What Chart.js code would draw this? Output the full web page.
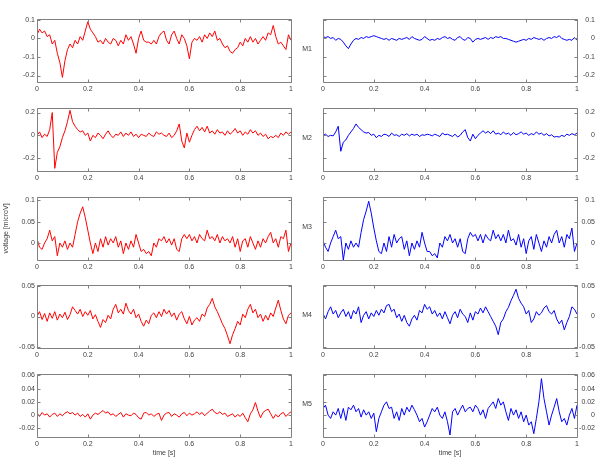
<!DOCTYPE html>
<html>
<head>
<meta charset="utf-8">
<script src="https://cdn.jsdelivr.net/npm/chart.js@4.4.1/dist/chart.umd.min.js"></script>
<style>
    body { margin: 0; background: #fff; width: 600px; height: 460px; position: relative; overflow: hidden; }
    canvas { position: absolute; }
</style>
</head>
<body>
<script>
// tick labels
const xTicks = [0, 0.2, 0.4, 0.6, 0.8, 1]
const rowNames = ['M1', 'M2', 'M3', 'M4', 'M5']
const rowTicks = [
    [-0.2, -0.1, 0, 0.1],
    [-0.2, 0, 0.2],
    [0, 0.05, 0.1],
    [-0.05, 0, 0.05],
    [-0.02, 0, 0.02, 0.04, 0.06]
]
const rowLimits = [[-0.235, 0.105], [-0.313, 0.24], [-0.04, 0.108], [-0.052, 0.052], [-0.033, 0.062]]

// signals, one sample every 0.01 s from 0 to 1
const red1 = [0.02,0.05,0.03,0.04,0.01,0.02,-0.03,-0.01,-0.08,-0.13,
    -0.21,-0.12,-0.06,-0.03,-0.05,-0.01,-0.03,0.01,-0.01,0.04,
    0.09,0.05,0.03,0.01,-0.02,-0.01,-0.03,0.0,-0.02,-0.03,
    0.0,-0.01,-0.04,-0.01,-0.03,0.02,-0.01,0.01,-0.03,-0.08,
    0.0,0.04,-0.01,-0.02,-0.02,-0.03,-0.01,-0.03,0.01,0.03,
    0.04,-0.01,-0.03,0.02,0.04,0.0,-0.03,0.02,0.0,-0.04,
    -0.11,-0.02,0.0,-0.01,0.01,-0.02,0.02,0.0,0.03,0.01,
    0.04,-0.01,0.0,-0.03,-0.05,-0.04,-0.07,-0.08,-0.06,-0.05,
    -0.02,-0.04,0.0,-0.02,0.01,-0.02,0.0,-0.03,-0.01,0.01,
    -0.01,0.03,0.02,0.07,0.01,-0.03,-0.02,-0.04,-0.06,0.02,
    -0.01]
const blue1 = [0.01,0.005,0.01,0.0,0.005,-0.01,0.0,-0.005,-0.02,-0.04,
    -0.055,-0.03,-0.01,0.0,-0.005,0.005,0.0,0.01,0.005,0.01,
    0.015,0.01,0.005,0.0,-0.005,0.0,-0.01,0.0,-0.005,-0.01,
    0.0,-0.005,0.0,0.005,-0.005,0.01,0.0,-0.005,-0.01,-0.005,
    0.01,0.0,-0.01,-0.005,-0.01,0.0,-0.005,0.005,0.01,0.0,
    0.005,-0.005,-0.01,0.005,0.01,-0.005,-0.01,0.005,0.0,-0.02,
    -0.005,0.0,-0.005,0.0,0.005,-0.005,0.005,0.0,0.01,0.005,
    0.01,0.0,0.0,-0.005,-0.01,-0.015,-0.02,-0.015,-0.01,-0.005,
    -0.01,0.0,-0.005,0.005,0.0,-0.005,0.0,-0.01,0.0,0.005,
    0.0,0.01,0.005,0.015,0.0,-0.005,-0.01,-0.005,-0.01,0.005,
    -0.01]
const red2 = [0.0,0.03,-0.02,0.01,-0.01,0.05,0.2,-0.29,-0.15,-0.1,
    -0.02,0.04,0.12,0.22,0.12,0.08,0.05,0.03,0.04,0.0,
    0.02,-0.05,0.0,-0.02,0.02,0.0,-0.03,0.01,0.04,0.0,
    -0.02,0.01,0.0,0.03,-0.01,0.02,0.0,0.03,-0.01,0.01,
    -0.02,0.01,0.0,-0.01,0.02,0.0,-0.01,0.03,0.01,0.02,
    0.0,-0.01,0.02,-0.02,0.0,0.04,0.1,-0.05,-0.11,0.02,
    -0.06,0.0,0.05,0.08,0.04,0.07,0.03,0.08,0.02,0.04,
    0.01,0.05,0.02,0.03,0.0,0.04,0.01,0.03,0.06,0.02,
    0.04,0.0,0.03,0.01,0.05,0.02,0.04,0.0,0.02,-0.01,
    0.01,-0.03,-0.01,-0.02,0.0,-0.02,0.02,0.0,0.03,0.01,
    0.03]
const blue2 = [0.0,0.01,-0.01,0.0,-0.005,0.03,0.08,-0.14,-0.06,-0.04,
    0.0,0.03,0.06,0.1,0.07,0.05,0.03,0.02,0.025,0.0,
    0.01,-0.02,0.0,-0.01,0.01,0.005,-0.01,0.02,0.0,0.005,
    -0.01,0.01,0.0,0.015,-0.005,0.01,0.0,0.01,-0.01,0.005,
    0.0,0.01,0.005,-0.005,0.01,0.0,-0.01,0.02,0.005,0.01,
    0.0,-0.01,0.01,-0.015,0.0,0.03,0.05,-0.02,-0.05,0.01,
    -0.03,0.0,0.02,0.04,0.02,0.035,0.015,0.04,0.01,0.02,
    0.005,0.03,0.01,0.02,0.0,0.025,0.005,0.015,0.03,0.01,
    0.02,0.0,0.015,0.005,0.03,0.01,0.02,0.0,0.015,-0.005,
    0.005,-0.015,-0.01,-0.015,0.0,-0.01,0.01,0.0,0.015,0.005,
    0.02]
const red3 = [0.01,-0.01,-0.015,0.0,0.01,0.03,0.005,0.015,-0.03,0.0,
    -0.01,0.005,-0.015,0.0,-0.01,0.02,0.05,0.07,0.085,0.06,
    0.03,0.0,-0.025,0.0,-0.02,0.01,-0.01,0.015,-0.005,0.01,
    0.0,0.015,-0.01,0.005,-0.025,0.0,-0.015,0.005,-0.01,0.02,
    0.0,-0.02,-0.015,-0.025,-0.02,-0.03,0.0,-0.01,0.01,0.005,
    0.015,0.0,0.01,-0.005,0.01,-0.015,-0.02,0.01,0.02,0.01,
    0.02,0.005,0.015,0.0,0.02,0.01,0.005,0.03,0.01,0.015,
    0.005,0.02,0.0,0.015,0.005,0.01,0.0,0.015,-0.01,0.01,
    -0.02,0.005,0.01,-0.01,0.015,0.0,-0.015,0.005,-0.01,0.01,
    0.0,0.015,0.025,0.0,0.01,-0.01,0.015,0.01,0.03,-0.02,
    0.0]
const blue3 = [0.005,-0.01,-0.02,0.0,0.015,0.03,0.01,0.015,-0.04,0.0,
    -0.015,0.005,-0.01,0.0,-0.01,0.025,0.055,0.075,0.098,0.07,
    0.035,0.005,-0.02,-0.025,0.0,-0.02,0.015,-0.01,0.02,0.0,
    0.01,0.015,-0.015,0.005,-0.03,0.0,-0.015,0.005,-0.01,0.025,
    0.0,-0.02,-0.02,-0.03,-0.025,-0.035,0.0,-0.01,0.015,0.005,
    0.02,0.0,0.01,-0.01,0.01,-0.02,-0.025,0.01,0.025,0.015,
    0.02,0.005,0.02,0.0,0.02,0.01,0.005,0.03,0.01,0.02,
    0.005,0.02,0.0,0.03,0.005,0.01,-0.005,0.02,-0.01,0.01,
    -0.025,0.005,0.015,-0.015,0.02,0.0,-0.02,0.005,-0.01,0.015,
    0.0,0.02,0.03,0.0,0.015,-0.01,0.02,0.01,0.035,-0.02,
    0.0]
const red4 = [0.0,0.008,-0.005,0.005,-0.008,0.006,-0.003,0.008,-0.006,0.004,
    -0.002,0.007,-0.005,0.003,0.016,0.01,0.004,0.012,0.0,0.008,
    0.002,0.01,-0.004,0.003,-0.008,-0.018,-0.005,-0.01,0.002,-0.004,
    0.012,0.02,0.006,0.012,0.004,0.022,0.01,0.004,0.012,-0.002,
    0.004,-0.008,-0.016,-0.006,-0.012,0.002,0.006,-0.002,0.008,0.0,
    0.012,0.004,0.01,0.0,0.006,-0.006,0.004,0.008,-0.004,-0.012,
    0.0,-0.014,-0.006,-0.002,-0.008,0.004,0.0,0.014,0.02,0.03,
    0.016,0.008,-0.002,-0.012,-0.02,-0.032,-0.045,-0.03,-0.02,-0.008,
    -0.014,0.004,-0.002,0.012,0.02,0.006,0.012,-0.002,0.004,-0.008,
    0.002,-0.006,0.006,0.0,0.014,0.027,0.01,-0.004,-0.012,0.002,
    0.006]
const blue4 = [0.005,-0.004,0.008,0.016,0.004,0.01,-0.002,0.006,0.012,0.0,
    0.008,-0.004,0.01,0.004,0.016,-0.01,0.002,0.008,-0.004,0.006,
    0.0,0.01,0.002,0.012,0.006,0.018,0.02,0.008,0.012,-0.002,
    0.004,-0.008,0.002,-0.01,-0.016,-0.004,0.002,-0.006,0.01,0.006,
    0.02,0.012,0.016,0.004,0.01,0.0,0.006,-0.004,0.008,-0.002,
    -0.012,0.002,0.008,-0.002,0.012,0.004,0.0,-0.01,0.006,-0.006,
    0.008,0.004,0.014,0.006,0.016,0.008,0.0,-0.008,-0.016,-0.03,
    -0.01,-0.004,0.008,0.015,0.026,0.035,0.045,0.03,0.022,0.016,
    0.004,0.01,-0.01,-0.004,0.008,0.002,0.006,0.014,0.018,0.008,
    0.004,0.01,-0.004,-0.012,-0.006,-0.022,-0.01,0.0,0.016,0.012,
    0.004]
const red5 = [0.003,-0.002,0.004,0.0,0.002,-0.003,0.001,0.003,-0.002,0.002,
    -0.001,0.003,0.005,0.002,0.004,0.0,0.003,-0.002,0.001,-0.003,
    0.002,-0.006,0.0,0.003,0.001,0.004,0.007,0.003,0.005,0.0,
    0.002,-0.002,0.001,0.004,-0.003,0.002,0.0,-0.001,0.003,0.001,
    -0.004,-0.006,0.003,0.004,0.0,0.002,-0.002,0.001,0.003,-0.008,
    0.0,0.003,0.004,-0.002,0.002,0.0,-0.003,0.002,0.004,-0.001,
    0.003,0.0,0.002,0.005,0.001,0.004,-0.001,0.003,0.006,0.009,
    0.004,0.002,0.005,0.001,0.003,-0.002,0.0,0.002,-0.003,0.001,
    -0.002,0.003,-0.004,-0.01,0.002,0.008,0.019,0.006,-0.004,0.004,
    0.007,0.009,0.002,-0.005,0.001,-0.003,0.002,0.004,-0.002,0.002,
    0.005]
const blue5 = [0.01,0.015,0.0,-0.005,0.005,0.0,0.01,-0.005,0.01,-0.008,
    0.012,0.008,0.015,0.005,0.01,-0.003,0.008,0.0,0.005,-0.005,
    0.003,-0.025,-0.005,0.005,0.015,0.02,0.01,0.012,-0.005,0.005,
    -0.008,0.01,0.0,0.012,0.005,0.015,0.008,0.0,-0.01,-0.005,
    -0.018,-0.01,0.0,0.01,0.005,0.012,0.0,-0.005,0.005,-0.01,
    -0.03,0.005,0.01,0.0,0.008,0.015,0.005,0.01,0.012,0.005,
    0.015,0.01,0.0,0.008,-0.005,0.01,0.015,0.02,0.01,0.025,
    0.015,0.02,0.005,-0.008,0.01,0.0,0.008,-0.005,0.005,-0.01,
    0.0,-0.015,-0.01,-0.028,-0.005,0.02,0.055,0.025,0.005,-0.015,
    0.0,0.012,0.025,0.005,-0.01,-0.005,-0.015,0.0,0.01,-0.005,
    0.015]

const redRows = [red1, red2, red3, red4, red5]
const blueRows = [blue1, blue2, blue3, blue4, blue5]

const rowTops = [19, 108, 197, 285, 374]
const plotH = 63
const textColor = '#404040'
const frameColor = '#808080'
const font = { family: 'Liberation Sans, Arial, sans-serif', size: 7 }

// box around the plot with inward ticks on all four sides, plus the M label
const framePlugin = {
    id: 'frame',
    afterDatasetsDraw(chart, args, opts) {
        const ctx = chart.ctx
        const a = chart.chartArea
        const l = Math.round(a.left) + 0.5, r = Math.round(a.right) + 0.5
        const t = Math.round(a.top) + 0.5, b = Math.round(a.bottom) + 0.5
        ctx.save()
        ctx.strokeStyle = frameColor
        ctx.lineWidth = 1
        ctx.beginPath()
        ctx.rect(l, t, r - l, b - t)
        chart.scales.x.ticks.forEach(tk => {
            const px = Math.round(chart.scales.x.getPixelForValue(tk.value)) + 0.5
            ctx.moveTo(px, b); ctx.lineTo(px, b - 3)
            ctx.moveTo(px, t); ctx.lineTo(px, t + 3)
        })
        chart.scales.y.ticks.forEach(tk => {
            const py = Math.round(chart.scales.y.getPixelForValue(tk.value)) + 0.5
            ctx.moveTo(l, py); ctx.lineTo(l + 3, py)
            ctx.moveTo(r, py); ctx.lineTo(r - 3, py)
        })
        ctx.stroke()
        if (opts.label) {
            ctx.fillStyle = textColor
            ctx.font = font.size + 'px ' + font.family
            ctx.textAlign = 'right'
            ctx.textBaseline = 'middle'
            ctx.fillText(opts.label, a.left - 11, (a.top + a.bottom) / 2 - 1)
        }
        ctx.restore()
    }
}

function makePanel(row, side) {
    const isLeft = side === 'left'
    const bottomRow = row === 4
    const xh = bottomRow ? 20 : 16
    const h = 8 + plotH + xh

    let canvas = document.createElement('canvas')
    canvas.width = 300
    canvas.height = h
    canvas.style.left = (isLeft ? 0 : 300) + 'px'
    canvas.style.top = (rowTops[row] - 8) + 'px'
    canvas.style.width = '300px'
    canvas.style.height = h + 'px'
    document.body.append(canvas)

    const values = isLeft ? redRows[row] : blueRows[row]
    const points = values.map((v, i) => ({ x: i / (values.length - 1), y: v }))

    new Chart(canvas, {
        type: 'line',
        data: {
            datasets: [{
                data: points,
                borderColor: isLeft ? '#ff0000' : '#0000ff',
                borderWidth: 1,
                pointRadius: 0,
                tension: 0
            }]
        },
        options: {
            responsive: false,
            animation: false,
            layout: { padding: { left: isLeft ? 0 : 23, right: isLeft ? 9 : 5, top: 8, bottom: 0 } },
            scales: {
                x: {
                    type: 'linear',
                    min: 0,
                    max: 1,
                    afterBuildTicks: s => { s.ticks = xTicks.map(v => ({ value: v })) },
                    afterFit: s => { s.height = xh },
                    grid: { display: false, drawTicks: false },
                    border: { display: false },
                    ticks: { autoSkip: false, maxRotation: 0, padding: 3, color: textColor, font: font, callback: v => String(v) },
                    title: { display: bottomRow, text: 'time [s]', color: textColor, font: font, padding: 0 }
                },
                y: {
                    position: side,
                    min: rowLimits[row][0],
                    max: rowLimits[row][1],
                    afterBuildTicks: s => { s.ticks = rowTicks[row].map(v => ({ value: v })) },
                    afterFit: s => { s.width = isLeft ? 37 : 18 },
                    grid: { display: false, drawTicks: false },
                    border: { display: false },
                    ticks: { autoSkip: false, padding: 2, crossAlign: isLeft ? 'near' : 'far', color: textColor, font: font, callback: v => String(v) },
                    title: { display: isLeft && row === 2, text: 'voltage [microV]', color: textColor, font: font, padding: { top: 2, bottom: 0 } }
                }
            },
            plugins: {
                legend: { display: false },
                tooltip: { enabled: false },
                frame: { label: isLeft ? null : rowNames[row] }
            }
        },
        plugins: [framePlugin]
    })
}

for (let row = 0; row < 5; row++) {
    makePanel(row, 'left')
    makePanel(row, 'right')
}
</script>
</body>
</html>
